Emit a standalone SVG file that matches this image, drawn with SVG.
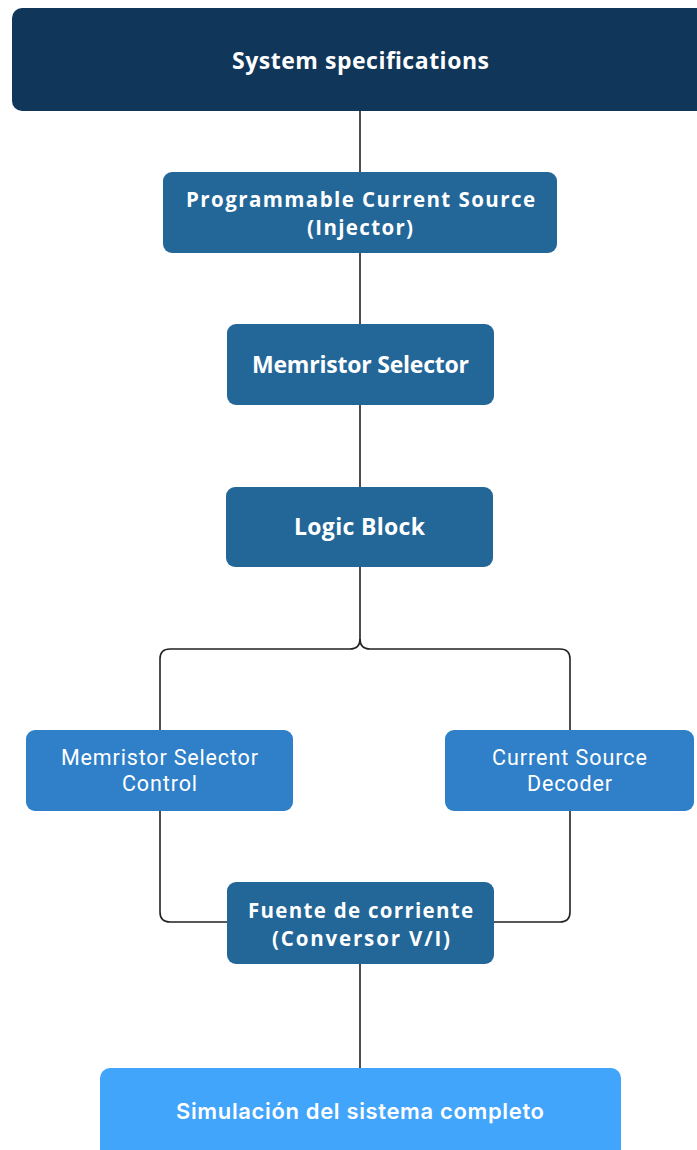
<svg xmlns="http://www.w3.org/2000/svg" width="697" height="1150" viewBox="0 0 697 1150">
<style>
.c{fill:none;stroke:#222;stroke-width:1.6}
.bold{font-family:"Open Sans",Lato,sans-serif;font-weight:700;fill:#fff;text-anchor:middle;font-size:23px}
.two{font-size:20.5px}
.reg{font-family:Roboto,"Liberation Sans",sans-serif;font-weight:400;fill:#fff;text-anchor:middle;font-size:21.5px}
.semi{font-family:Inter,Roboto,sans-serif;font-weight:600;fill:#fff;text-anchor:middle;font-size:22px}
</style>
<rect width="697" height="1150" fill="#fff"/>
<g id="connectors">
<path class="c" d="M360,111 V172"/>
<path class="c" d="M360,253 V324"/>
<path class="c" d="M360,405 V487"/>
<path class="c" d="M360,567 V639 Q360,649 350,649 H170 Q160,649 160,659 V730"/>
<path class="c" d="M360,639 Q360,649 370,649 H560 Q570,649 570,659 V730"/>
<path class="c" d="M160,811 V912 Q160,922 170,922 H227"/>
<path class="c" d="M570,811 V912 Q570,922 560,922 H494"/>
<path class="c" d="M360,964 V1068"/>
</g>
<g id="system-specifications">
<rect x="12" y="8" width="700" height="103" rx="10" fill="#10365a"/>
<text class="bold" x="360.5" y="68.5" font-size="23.5" textLength="257" lengthAdjust="spacing">System specifications</text>
</g>
<g id="programmable-current-source">
<rect x="163" y="172" width="394" height="81" rx="9" fill="#236698"/>
<text class="bold two" x="360.5" y="206.5" textLength="349" lengthAdjust="spacing">Programmable Current Source</text>
<text class="bold two" x="360" y="234.5" textLength="106" lengthAdjust="spacing">(Injector)</text>
</g>
<g id="memristor-selector">
<rect x="227" y="324" width="267" height="81" rx="9" fill="#236698"/>
<text class="bold" x="360.5" y="373" textLength="217" lengthAdjust="spacing">Memristor Selector</text>
</g>
<g id="logic-block">
<rect x="226" y="487" width="267" height="80" rx="9" fill="#236698"/>
<text class="bold" x="359.5" y="535" textLength="131" lengthAdjust="spacing">Logic Block</text>
</g>
<g id="memristor-selector-control">
<rect x="26" y="730" width="267" height="81" rx="9" fill="#2f80c8"/>
<text class="reg" x="159.5" y="765" textLength="197" lengthAdjust="spacing">Memristor Selector</text>
<text class="reg" x="159.5" y="791" textLength="75" lengthAdjust="spacing">Control</text>
</g>
<g id="current-source-decoder">
<rect x="445" y="730" width="249" height="81" rx="9" fill="#2f80c8"/>
<text class="reg" x="569.5" y="765" textLength="155" lengthAdjust="spacing">Current Source</text>
<text class="reg" x="569.5" y="791" textLength="85" lengthAdjust="spacing">Decoder</text>
</g>
<g id="fuente-de-corriente">
<rect x="227" y="882" width="267" height="82" rx="9" fill="#236698"/>
<text class="bold two" x="360.5" y="917.5" textLength="225" lengthAdjust="spacing">Fuente de corriente</text>
<text class="bold two" x="361" y="945.5" textLength="178" lengthAdjust="spacing">(Conversor V/I)</text>
</g>
<g id="simulacion">
<rect x="100" y="1068" width="521" height="100" rx="10" fill="#42a5fc"/>
<text class="semi" x="360" y="1119" textLength="368" lengthAdjust="spacing">Simulación del sistema completo</text>
</g>
</svg>
